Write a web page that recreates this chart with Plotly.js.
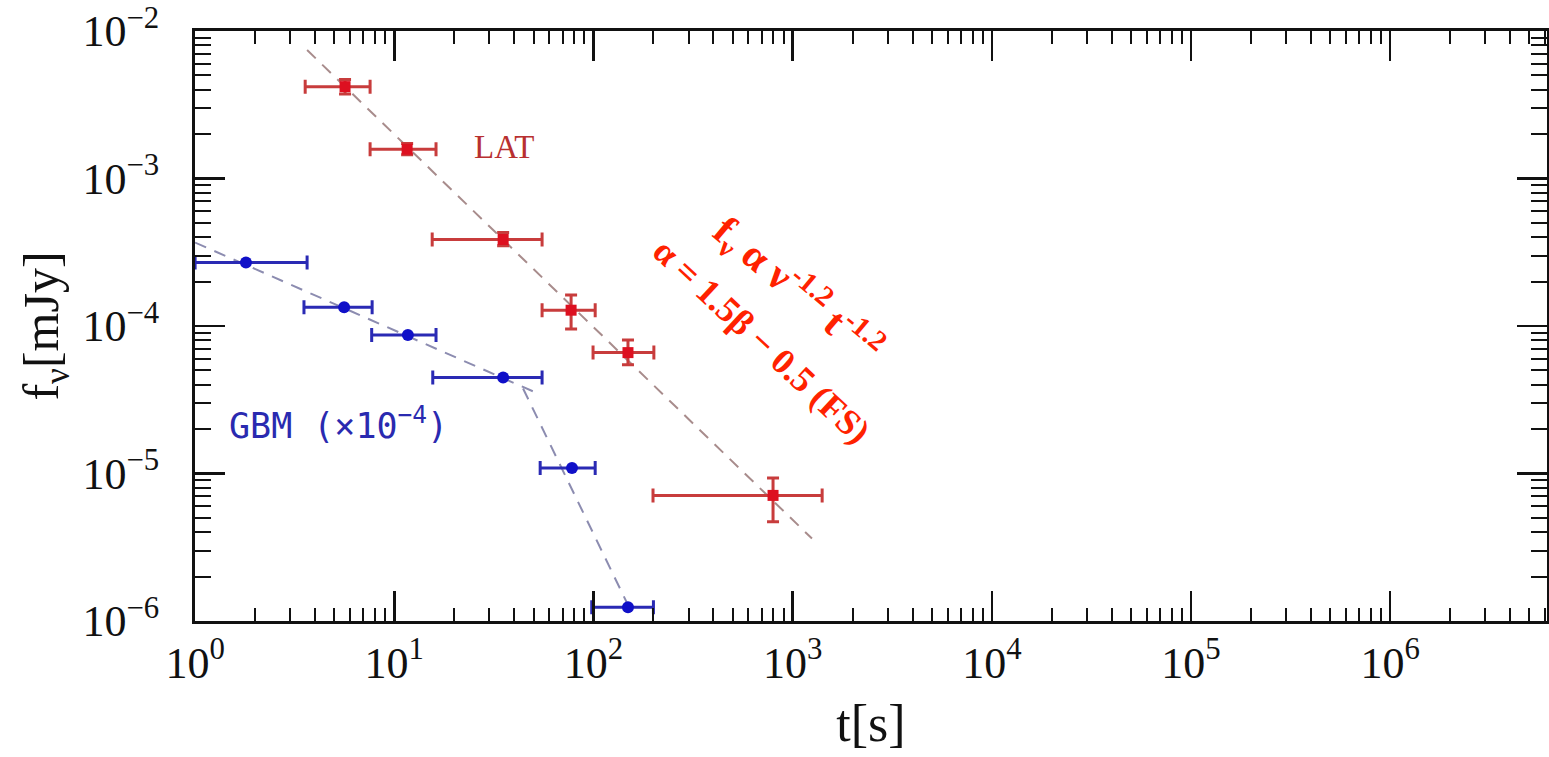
<!DOCTYPE html>
<html>
<head>
<meta charset="utf-8">
<script src="https://cdn.plot.ly/plotly-3.0.1.min.js"></script>
<style>html,body{margin:0;padding:0;background:#fff;}#chart{width:1549px;height:757px;}</style>
</head>
<body>
<div id="chart"></div>
<script>
// ---- LAT data (red) ----
const latT    = [5.66, 11.6, 35.2, 77.2, 149, 797];
const latTLo  = [3.57, 7.56, 15.5, 55.2, 99.5, 199];
const latTHi  = [7.56, 16.2, 55.2, 102, 201, 1406];
const latF    = [4.2e-3, 1.58e-3, 3.86e-4, 1.28e-4, 6.6e-5, 7.1e-6];
const latFLo  = [3.75e-3, 1.45e-3, 3.5e-4, 9.55e-5, 5.46e-5, 4.71e-6];
const latFHi  = [4.7e-3, 1.73e-3, 4.3e-4, 1.62e-4, 8.05e-5, 9.3e-6];

// ---- GBM data (blue, x1e-4) ----
const gbmT    = [1.8, 5.6, 11.7, 35.2, 78, 149];
const gbmTLo  = [1.0, 3.52, 7.7, 15.6, 54, 98];
const gbmTHi  = [3.65, 7.74, 16.2, 55.2, 102, 200];
const gbmF    = [2.7e-4, 1.34e-4, 8.7e-5, 4.47e-5, 1.09e-5, 1.24e-6];

// ---- model lines (dashed) ----
const latFitT  = [3.65, 1250];
const latFitF  = [7.44e-3, 3.62e-6];
const gbmFit1T = [1, 54];
const gbmFit1F = [3.68e-4, 3.43e-5];
const gbmFit2T = [44.3, 147.5];
const gbmFit2F = [3.77e-5, 1.32e-6];

// ---- tick labels ----
const xTickVals = [1, 10, 100, 1e3, 1e4, 1e5, 1e6];
const xTickText = ['10<sup>0</sup>','10<sup>1</sup>','10<sup>2</sup>','10<sup>3</sup>','10<sup>4</sup>','10<sup>5</sup>','10<sup>6</sup>'];
const yTickVals = [1e-6, 1e-5, 1e-4, 1e-3, 1e-2];
const yTickText = ['10<sup>−6</sup>','10<sup>−5</sup>','10<sup>−4</sup>','10<sup>−3</sup>','10<sup>−2</sup>'];

function minorVals(lo, hi) {
  const v = [];
  for (let e = lo; e < hi; e++) for (let k = 2; k <= 9; k++) v.push(k * Math.pow(10, e));
  return v;
}
const sub = (a, b) => a.map((v, i) => v - b[i]);

const RED_BAR = '#c83c3c', RED_MK = '#dd1020';
const BLUE_BAR = '#2a2ab4', BLUE_MK = '#1010c8';

const traces = [
  {x: latFitT, y: latFitF, mode: 'lines', line: {color: '#a88c8c', width: 2, dash: '12px,9px'}, hoverinfo: 'skip', showlegend: false},
  {x: gbmFit1T, y: gbmFit1F, mode: 'lines', line: {color: '#8c8cb0', width: 2, dash: '12px,9px'}, hoverinfo: 'skip', showlegend: false},
  {x: gbmFit2T, y: gbmFit2F, mode: 'lines', line: {color: '#8c8cb0', width: 2, dash: '12px,9px'}, hoverinfo: 'skip', showlegend: false},
  {
    name: 'LAT', x: latT, y: latF, mode: 'markers', type: 'scatter',
    marker: {symbol: 'square', size: 11, color: RED_MK},
    error_x: {type: 'data', symmetric: false, array: sub(latTHi, latT), arrayminus: sub(latT, latTLo), color: RED_BAR, thickness: 3, width: 7},
    error_y: {type: 'data', symmetric: false, array: sub(latFHi, latF), arrayminus: sub(latF, latFLo), color: RED_BAR, thickness: 3, width: 6},
    showlegend: false
  },
  {
    name: 'GBM', x: gbmT, y: gbmF, mode: 'markers', type: 'scatter',
    marker: {symbol: 'circle', size: 12, color: BLUE_MK},
    error_x: {type: 'data', symmetric: false, array: sub(gbmTHi, gbmT), arrayminus: sub(gbmT, gbmTLo), color: BLUE_BAR, thickness: 3, width: 7},
    showlegend: false
  }
];

const axisCommon = {
  type: 'log', showline: true, linecolor: '#111', linewidth: 3, mirror: 'allticks',
  ticks: 'inside', ticklen: 30, tickwidth: 2.5, tickcolor: '#111',
  showgrid: false, zeroline: false, tickmode: 'array', ticklabeloverflow: 'allow',
  tickfont: {family: 'Liberation Serif, DejaVu Serif, serif', size: 44, color: '#111'}
};

const layout = {
  width: 1549, height: 757,
  margin: {l: 195, r: 2, t: 31, b: 136},
  paper_bgcolor: '#fff', plot_bgcolor: '#fff',
  xaxis: Object.assign({}, axisCommon, {
    range: [-0.0005, 6.787], tickvals: xTickVals, ticktext: xTickText, ticklabelstandoff: 1,
    minor: {tickmode: 'array', tickvals: minorVals(0, 7), ticks: 'inside', ticklen: 13, tickwidth: 2, tickcolor: '#111'},
    title: {text: 't[s]', font: {family: 'Liberation Serif, DejaVu Serif, serif', size: 52, color: '#111'}, standoff: 18}
  }),
  yaxis: Object.assign({}, axisCommon, {
    range: [-6.0005, -1.9995], tickvals: yTickVals, ticktext: yTickText, ticklabelstandoff: 24,
    minor: {tickmode: 'array', tickvals: minorVals(-6, -2), ticks: 'inside', ticklen: 16, tickwidth: 2, tickcolor: '#111'},
    title: {text: 'f<sub>ν</sub>[mJy]', font: {family: 'Liberation Serif, DejaVu Serif, serif', size: 50, color: '#111'}, standoff: 8}
  }),
  annotations: [
    {xref: 'paper', yref: 'paper', x: 0.229, y: 0.803, xanchor: 'center', yanchor: 'middle', text: 'LAT', showarrow: false,
     font: {family: 'Liberation Serif, serif', size: 33, color: '#b83030'}},
    {xref: 'paper', yref: 'paper', x: 0.106, y: 0.335, xanchor: 'center', yanchor: 'middle', text: 'GBM (×10<sup>−4</sup>)', showarrow: false,
     font: {family: 'DejaVu Sans Mono, monospace', size: 35, color: '#2a2ab0'}},
    {xref: 'paper', yref: 'paper', x: 0.446, y: 0.561, xanchor: 'center', yanchor: 'middle', text: '<b>f<sub>ν</sub> α ν<sup>-1.2</sup> t<sup>-1.2</sup></b>', showarrow: false, textangle: 40,
     font: {family: 'Liberation Serif, serif', size: 41, color: '#ff2200'}},
    {xref: 'paper', yref: 'paper', x: 0.419, y: 0.474, xanchor: 'center', yanchor: 'middle', text: '<b>α = 1.5β − 0.5 (FS)</b>', showarrow: false, textangle: 43,
     font: {family: 'Liberation Serif, serif', size: 36, color: '#ff2200'}}
  ]
};

Plotly.newPlot('chart', traces, layout, {displayModeBar: false, staticPlot: true});
</script>
</body>
</html>
